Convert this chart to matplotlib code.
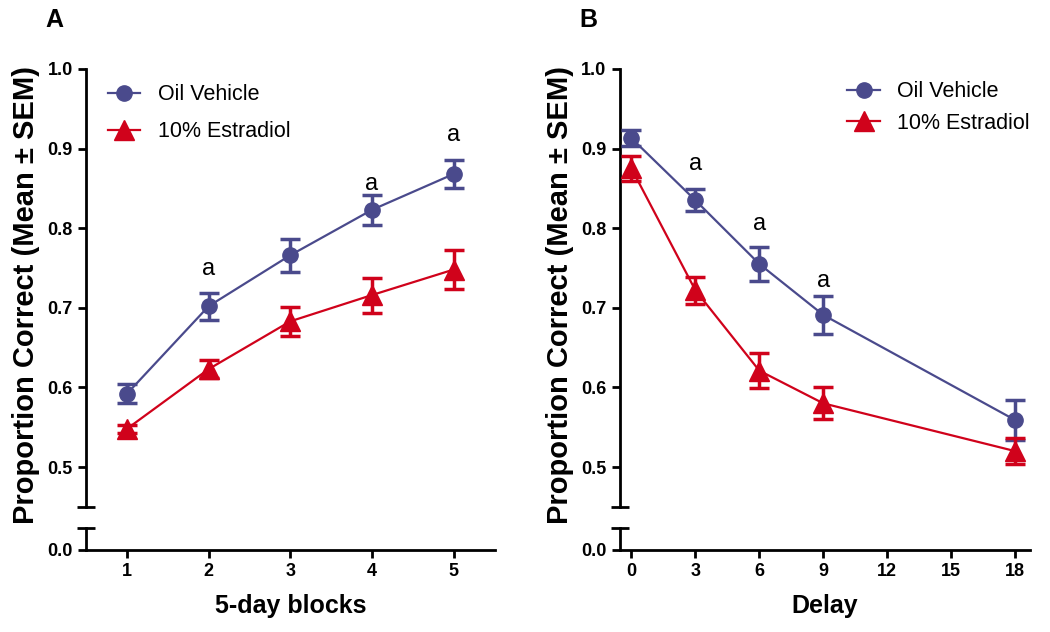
import numpy as np
import matplotlib
matplotlib.use("Agg")
import matplotlib.pyplot as plt
from matplotlib.lines import Line2D

# panel A: 5-day blocks
blocks = [1, 2, 3, 4, 5]
oil_a = [0.592, 0.702, 0.766, 0.823, 0.868]
oil_a_err = [0.012, 0.017, 0.021, 0.019, 0.018]
est_a = [0.548, 0.623, 0.683, 0.716, 0.748]
est_a_err = [0.005, 0.011, 0.018, 0.022, 0.024]
sig_a_x = [2, 4, 5]
sig_a_y = [0.749, 0.855, 0.917]

# panel B: delay
delays = [0, 3, 6, 9, 18]
oil_b = [0.913, 0.835, 0.755, 0.691, 0.559]
oil_b_err = [0.010, 0.014, 0.021, 0.024, 0.025]
est_b = [0.875, 0.722, 0.621, 0.580, 0.520]
est_b_err = [0.016, 0.017, 0.022, 0.020, 0.016]
sig_b_x = [3, 6, 9]
sig_b_y = [0.881, 0.805, 0.734]

blue = "#4a4a8c"
red = "#d0021b"

plt.rcParams['font.family'] = ['Liberation Sans', 'DejaVu Sans']

fig = plt.figure(figsize=(10.5, 6.32), dpi=100)


def make_panel(left, width, x, oil, oil_err, est, est_err, sig_x, sig_y,
               xlim, xticks, xlabel, letter, legend_pos, legend_gap):
    top = fig.add_axes([left, 0.198, width, 0.693])
    bot = fig.add_axes([left, 0.130, width, 0.035])

    top.errorbar(x, oil, yerr=oil_err, color=blue, marker='o', markersize=11,
                 lw=1.6, elinewidth=2.5, capsize=7.5, capthick=2.5, zorder=3)
    top.errorbar(x, est, yerr=est_err, color=red, marker='^', markersize=14,
                 lw=1.6, elinewidth=2.5, capsize=7.5, capthick=2.5, zorder=3)
    for sx, sy in zip(sig_x, sig_y):
        top.text(sx, sy, 'a', ha='center', va='center', fontsize=17)

    top.set_xlim(*xlim)
    top.set_ylim(0.45, 1.0)
    top.set_yticks([0.5, 0.6, 0.7, 0.8, 0.9, 1.0])
    top.set_yticklabels(['0.5', '0.6', '0.7', '0.8', '0.9', '1.0'])
    top.set_xticks([])
    for s in ['top', 'right', 'bottom']:
        top.spines[s].set_visible(False)
    top.spines['left'].set_linewidth(2)
    top.tick_params(axis='y', width=2, length=6, labelsize=13)

    bot.set_xlim(*xlim)
    bot.set_ylim(0, 1)
    bot.set_yticks([0])
    bot.set_yticklabels(['0.0'])
    bot.set_xticks(xticks)
    bot.set_xticklabels([str(t) for t in xticks])
    for s in ['top', 'right']:
        bot.spines[s].set_visible(False)
    bot.spines['left'].set_linewidth(2)
    bot.spines['bottom'].set_linewidth(2)
    bot.tick_params(axis='both', width=2, length=6, labelsize=13)
    bot.set_xlabel(xlabel, fontsize=18, fontweight='bold', labelpad=10)

    for lab in top.get_yticklabels() + bot.get_yticklabels() + bot.get_xticklabels():
        lab.set_fontweight('bold')

    # break caps on the y axis
    top.plot([0], [0], marker='_', markersize=13, mew=2, color='black',
             transform=top.transAxes, clip_on=False)
    bot.plot([0], [1], marker='_', markersize=13, mew=2, color='black',
             transform=bot.transAxes, clip_on=False)

    fig.text(left - 0.057, 0.533, 'Proportion Correct (Mean \u00b1 SEM)',
             rotation=90, ha='center', va='center', fontsize=21,
             fontweight='bold')
    fig.text(left - 0.030, 0.968, letter, ha='center', va='center',
             fontsize=18, fontweight='bold')

    handles = [Line2D([], [], color=blue, marker='o', markersize=11, lw=1.6),
               Line2D([], [], color=red, marker='^', markersize=14, lw=1.6)]
    top.legend(handles, ['Oil Vehicle', '10% Estradiol'], loc='upper left',
               bbox_to_anchor=legend_pos, frameon=False, fontsize=15.5,
               handlelength=1.5, handletextpad=0.8, borderaxespad=0,
               borderpad=0, labelspacing=legend_gap)
    return top, bot


make_panel(0.082, 0.389, blocks, oil_a, oil_a_err, est_a, est_a_err,
           sig_a_x, sig_a_y, (0.5, 5.5), blocks, '5-day blocks', 'A',
           (0.054, 0.965), 0.75)
make_panel(0.590, 0.391, delays, oil_b, oil_b_err, est_b, est_b_err,
           sig_b_x, sig_b_y, (-0.56, 18.7), [0, 3, 6, 9, 12, 15, 18],
           'Delay', 'B', (0.555, 0.972), 0.5)

fig.savefig('out.png', dpi=100)
